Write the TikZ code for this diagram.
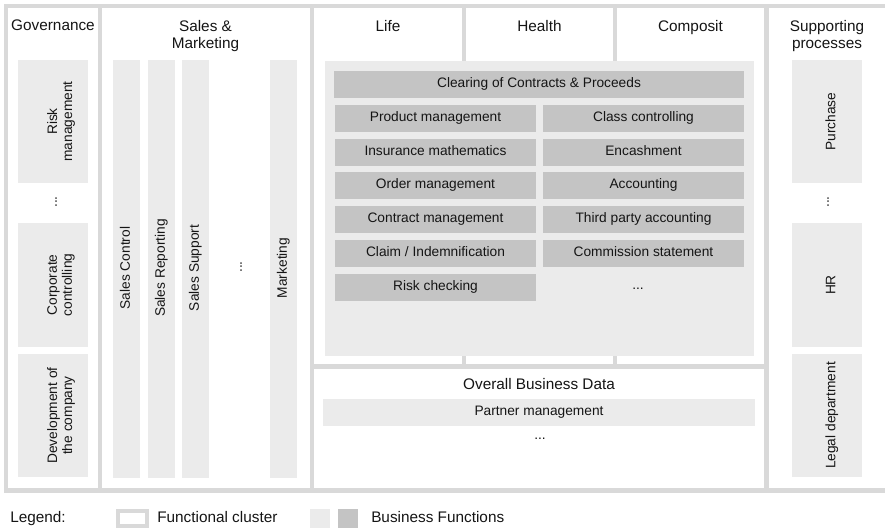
\documentclass[tikz,border=0pt]{standalone}
\usepackage{fontspec}
\setmainfont{Liberation Sans}
\definecolor{framec}{HTML}{D9D9D9}
\definecolor{lightf}{HTML}{EBEBEB}
\definecolor{darkf}{HTML}{C4C4C4}
\definecolor{ink}{HTML}{151515}
\begin{document}
\begin{tikzpicture}[x=0.75pt,y=-0.75pt,
  cell/.style={fill=white},
  lbox/.style={fill=lightf},
  dbox/.style={fill=darkf},
  ttl/.style={font=\fontsize{11.5}{13}\selectfont, text=ink, align=center, inner sep=0pt, anchor=north},
  mlbl/.style={font=\fontsize{10.3}{11.2}\selectfont, text=ink, align=center, inner sep=0pt},
  lbl/.style={font=\fontsize{10.3}{11.2}\selectfont, text=ink, inner sep=0pt, text height=7.4pt, text depth=2.2pt},
  vlbl/.style={lbl, rotate=90},
  vmlbl/.style={mlbl, rotate=90},
  dots/.style={font=\fontsize{10.3}{11.2}\selectfont, text=ink, inner sep=0pt, text height=1.4pt, text depth=0pt},
  leg/.style={font=\fontsize{11.5}{13}\selectfont, text=ink, inner sep=0pt, anchor=base west}]
\useasboundingbox (0,0) rectangle (885,531);
\fill[white] (0,0) rectangle (885,531);
% frame and functional clusters
\fill[framec] (4,4) rectangle (885,493);
\fill[cell] (8,8) rectangle (98,488);
\fill[cell] (102,8) rectangle (309.5,488);
\fill[cell] (314,8) rectangle (462,364);
\fill[cell] (466,8) rectangle (613,364);
\fill[cell] (617,8) rectangle (764,364);
\fill[cell] (314,369) rectangle (764,488);
\fill[cell] (769,8) rectangle (885,488);
% titles
\node[ttl] (tgov) at (53,20) {Governance};
\node[ttl] (tsales) at (205.5,20) {Sales \&\\Marketing};
\node[ttl] (tlife) at (388,20) {Life};
\node[ttl] (thealth) at (539.5,20) {Health};
\node[ttl] (tcomp) at (690.5,20) {Composit};
\node[ttl] (tsupp) at (827,20) {Supporting\\processes};
% governance
\fill[lbox] (18,60) rectangle (88,183);
\fill[lbox] (18,223) rectangle (88,347);
\fill[lbox] (18,354) rectangle (88,477);
\node[vmlbl] (risk) at (61,121.5) {Risk\\management};
\node[dots, rotate=90] (gdots) at (56,202) {...};
\node[vmlbl] (corp) at (61,285) {Corporate\\controlling};
\node[vmlbl] (dev) at (61,415.5) {Development of\\the company};
% sales & marketing
\fill[lbox] (113,60) rectangle (140,478);
\fill[lbox] (148,60) rectangle (175,478);
\fill[lbox] (182,60) rectangle (209,478);
\fill[lbox] (270,60) rectangle (297,478);
\node[vlbl] (sctl) at (126.5,268) {Sales Control};
\node[vlbl] (srep) at (161.5,268) {Sales Reporting};
\node[vlbl] (ssup) at (195.5,268) {Sales Support};
\node[dots, rotate=90] (sdots) at (241,267) {...};
\node[vlbl] (mkt) at (283.5,268) {Marketing};
% middle panel
\fill[lbox] (325,61) rectangle (754,356);
\fill[dbox] (334,71) rectangle (744,98);
\node[lbl] (clear) at (539,84.5) {Clearing of Contracts \& Proceeds};
\fill[dbox] (335,105) rectangle (536,132);
\fill[dbox] (543,105) rectangle (744,132);
\fill[dbox] (335,139) rectangle (536,166);
\fill[dbox] (543,139) rectangle (744,166);
\fill[dbox] (335,172) rectangle (536,199);
\fill[dbox] (543,172) rectangle (744,199);
\fill[dbox] (335,206) rectangle (536,233);
\fill[dbox] (543,206) rectangle (744,233);
\fill[dbox] (335,240) rectangle (536,267);
\fill[dbox] (543,240) rectangle (744,267);
\fill[dbox] (335,274) rectangle (536,301);
\node[lbl] (prod) at (435.5,118.5) {Product management};
\node[lbl] (cls) at (643.5,118.5) {Class controlling};
\node[lbl] (math) at (435.5,152.5) {Insurance mathematics};
\node[lbl] (enc) at (643.5,152.5) {Encashment};
\node[lbl] (ord) at (435.5,185.5) {Order management};
\node[lbl] (acc) at (643.5,185.5) {Accounting};
\node[lbl] (con) at (435.5,219.5) {Contract management};
\node[lbl] (tpa) at (643.5,219.5) {Third party accounting};
\node[lbl] (claim) at (435.5,253.5) {Claim / Indemnification};
\node[lbl] (comm) at (643.5,253.5) {Commission statement};
\node[lbl] (rchk) at (435.5,287.5) {Risk checking};
\node[dots] (mdots) at (638,289) {...};
% overall business data
\node[ttl] (tover) at (539,378) {Overall Business Data};
\fill[lbox] (323,399) rectangle (755,426);
\node[lbl] (partner) at (539,412.5) {Partner management};
\node[dots] (odots) at (540,439) {...};
% supporting processes
\fill[lbox] (792,60) rectangle (862,183);
\fill[lbox] (792,223) rectangle (862,347);
\fill[lbox] (792,354) rectangle (862,477);
\node[vlbl] (purch) at (832,121.5) {Purchase};
\node[dots, rotate=90] (pdots) at (828,202) {...};
\node[vlbl] (hr) at (832,285) {HR};
\node[vlbl] (legal) at (832,415.5) {Legal department};
% legend
\node[leg] (leglab) at (10,522) {Legend:};
\draw[framec, line width=3pt, fill=white] (118,511) rectangle (147,526);
\node[leg] (legfc) at (157,522) {Functional cluster};
\fill[lightf] (310,509) rectangle (330,528);
\fill[darkf] (338,509) rectangle (358,528);
\node[leg] (legbf) at (371,522) {Business Functions};
\end{tikzpicture}
\end{document}
